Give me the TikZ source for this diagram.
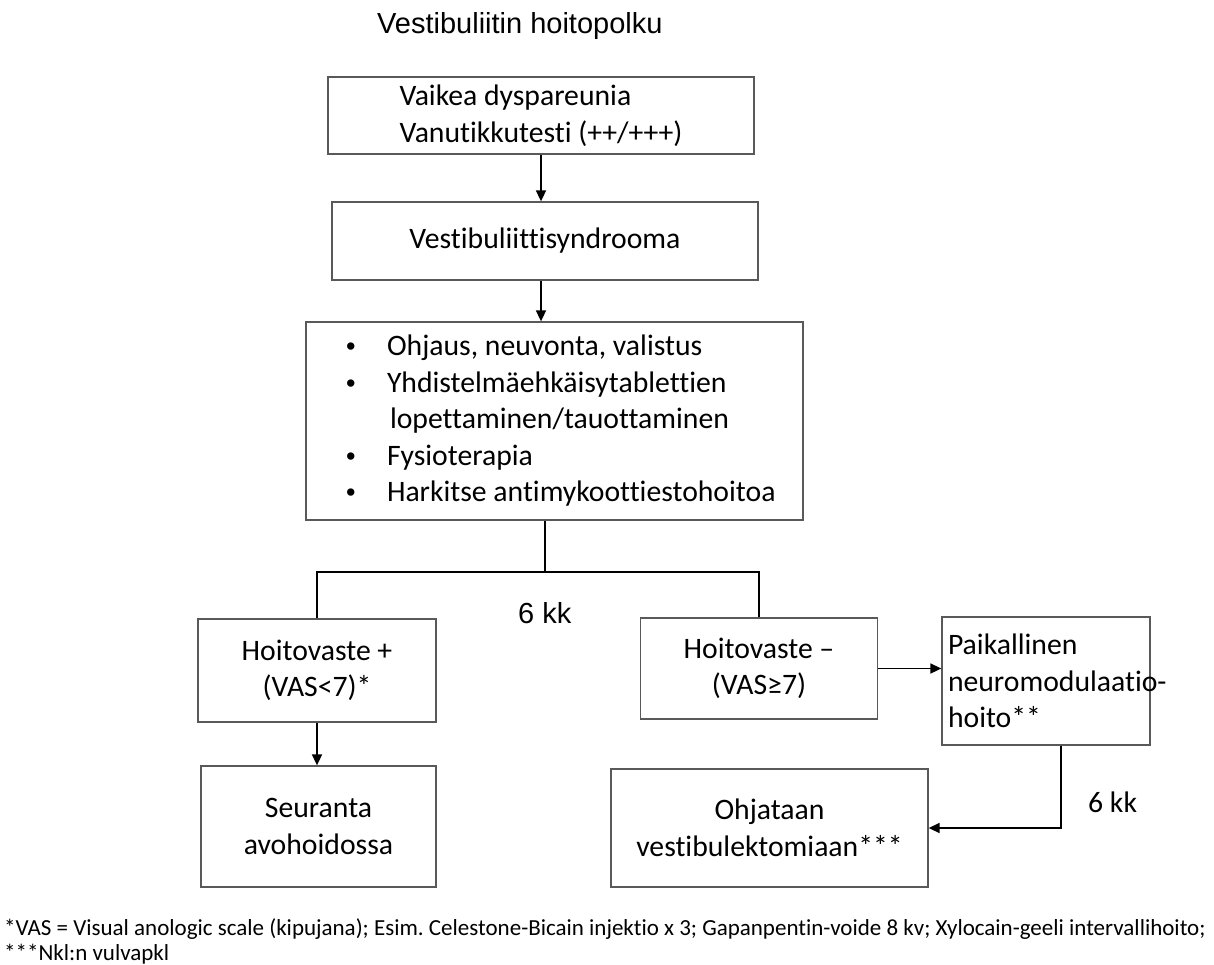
\documentclass[tikz,border=0pt]{standalone}
\usepackage{fontspec}
\setmainfont{Carlito}[Ligatures=CommonOff]
\newfontfamily\arialf{Liberation Sans}
\usetikzlibrary{arrows.meta,calc}
\definecolor{boxgray}{gray}{0.35}
\newcommand{\bul}{\makebox[38pt][l]{\hspace*{-3pt}{\arialf\fontsize{27}{27}\selectfont •}}}
\frenchspacing
\begin{document}
\begin{tikzpicture}[x=1pt,y=-1pt,
  box/.style={draw=boxgray, line width=1.3pt, inner sep=0pt, font=\frenchspacing\fontsize{29.7}{36.5}\selectfont,
    execute at begin node={\spaceskip=0pt\xspaceskip=0pt}},
  conn/.style={line width=1.6pt, draw=black},
  arr/.style={conn, -{Triangle[length=11pt,width=10pt]}},
  lbl/.style={anchor=base west, inner sep=0pt},
]
\useasboundingbox (0,0) rectangle (1214,964);
\node[lbl, font=\arialf\fontsize{29}{34}\selectfont] (title) at (377,33) {Vestibuliitin hoitopolku};
\node[box, minimum width=426pt, minimum height=77pt, align=left] (b1) at (541,115.5) {Vaikea dyspareunia\\Vanutikkutesti (++/+++)};
\node[box, minimum width=426pt, minimum height=78pt] (b2) at (545,241) {Vestibuliittisyndrooma};
\node[box, minimum width=497pt, minimum height=198pt, text width=411pt, align=left] (b3) at (554.5,421)
  {\mbox{\bul Ohjaus, neuvonta, valistus}\\
   \mbox{\bul Yhdistelmäehkäisytablettien}\\
   \mbox{\hspace*{41pt}lopettaminen/tauottaminen}\\
   \mbox{\bul Fysioterapia}\\
   \mbox{\bul Harkitse antimykoottiestohoitoa}};
\node[box, minimum width=238pt, minimum height=103pt, align=center] (b4) at (317,670.5) {Hoitovaste +\\(VAS<7)*};
\node[box, minimum width=237pt, minimum height=101pt, align=center] (b5) at (759,668.5) {Hoitovaste –\\(VAS≥7)};
\node[box, minimum width=208pt, minimum height=128pt, text width=196pt, align=left] (b7) at (1046,681) {Paikallinen\\\mbox{neuromodulaatio-}\\hoito**};
\node[box, minimum width=235pt, minimum height=121pt, align=center] (b6) at (318.5,826.5) {Seuranta\\avohoidossa};
\node[box, minimum width=317pt, minimum height=118pt, align=center] (b8) at (769.5,828) {Ohjataan\\vestibulektomiaan***};
\node[lbl, font=\arialf\fontsize{29}{34}\selectfont] (kk1) at (518,623) {6 kk};
\node[lbl, font=\fontsize{29.7}{36}\selectfont] (kk2) at (1088,812) {6 kk};
\node[anchor=north west, inner sep=0pt, align=left, font=\frenchspacing\fontsize{23}{25}\selectfont,
  execute at begin node={\spaceskip=0pt\xspaceskip=0pt}] (foot) at (4,918)
  {*VAS = Visual anologic scale (kipujana); Esim. Celestone-Bicain injektio x 3; Gapanpentin-voide 8 kv; Xylocain-geeli intervallihoito;\\***Nkl:n vulvapkl};
\draw[arr] (b1.south) -- (b1.south |- b2.north);
\draw[arr] (b1.south |- b2.south) -- (b1.south |- b3.north);
\coordinate (split) at (545,572);
\draw[conn] (b3.south -| split) -- (split);
\draw[conn] (split) -| (b4.north);
\draw[conn] (split) -| (b5.north);
\draw[arr] (b4.south) -- (b4.south |- b6.north);
\draw[arr] (b5.east) -- (b5.east -| b7.west);
\draw[arr] ($(b7.south)+(15,0)$) |- (b8.east);
\end{tikzpicture}
\end{document}
